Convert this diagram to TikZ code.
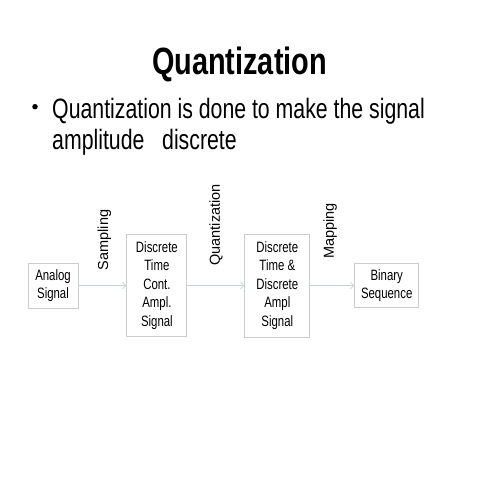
\documentclass[tikz,border=0pt]{standalone}
\usepackage{fontspec}
\setmainfont{Liberation Sans}[FakeStretch=0.76]
\newfontfamily\lblfont{Liberation Sans}
\usetikzlibrary{positioning,arrows.meta}

\definecolor{boxgray}{HTML}{C9CDCD}
\definecolor{flowgray}{HTML}{C4D4D8}

\tikzset{
  blk/.style={draw=boxgray, line width=0.9pt, align=center, inner sep=2pt, font=\fontsize{15}{18.5}\selectfont},
  lbl/.style={rotate=90, inner sep=0pt, font=\lblfont\fontsize{14.5}{17}\selectfont},
  flow/.style={draw=flowgray, line width=0.7pt, -{Straight Barb[length=3.5pt,width=7pt]}}
}

\begin{document}
\begin{tikzpicture}[x=1pt, y=-1pt]
\useasboundingbox (0,0) rectangle (480,480);

%% title and bullet text
\node[anchor=base, inner sep=0pt, font=\bfseries\fontsize{38}{44}\selectfont] (title) at (239.5,74.3) {Quantization};
\node[circle, fill=black, inner sep=0pt, minimum size=5.5pt] (bullet) at (35,106.7) {};
\node[anchor=base west, inner sep=0pt, font=\fontsize{28}{31}\selectfont] (bul_line1) at (52,118.3) {Quantization is done to make the signal};
\node[anchor=base west, inner sep=0pt, font=\fontsize{28}{31}\selectfont] (bul_line2) at (52,149) {amplitude~~~discrete};

%% signal blocks
\node[blk, minimum width=50pt, minimum height=45pt] (analog_sig) at (53,285.5) {Analog\\Signal};
\node[blk, minimum width=60pt, minimum height=102pt, right=48pt of analog_sig] (ct_signal) {Discrete\\Time\\Cont.\\Ampl.\\Signal};
\node[blk, minimum width=65pt, minimum height=103pt, right=57pt of ct_signal] (dt_signal) {Discrete\\Time \&\\Discrete\\Ampl\\Signal};
\node[blk, minimum width=64pt, minimum height=44pt, right=44pt of dt_signal] (bin_seq) {Binary\\Sequence};

\draw[flow] (analog_sig) -- (ct_signal);
\draw[flow] (ct_signal) -- (dt_signal);
\draw[flow] (dt_signal) -- (bin_seq);

% operation labels
\node[lbl] (samp_lbl) at (104.5,240) {Sampling};
\node[lbl] (quant_lbl) at (216,225) {Quantization};
\node[lbl] (map_lbl) at (330,231) {Mapping};

\end{tikzpicture}
\end{document}
